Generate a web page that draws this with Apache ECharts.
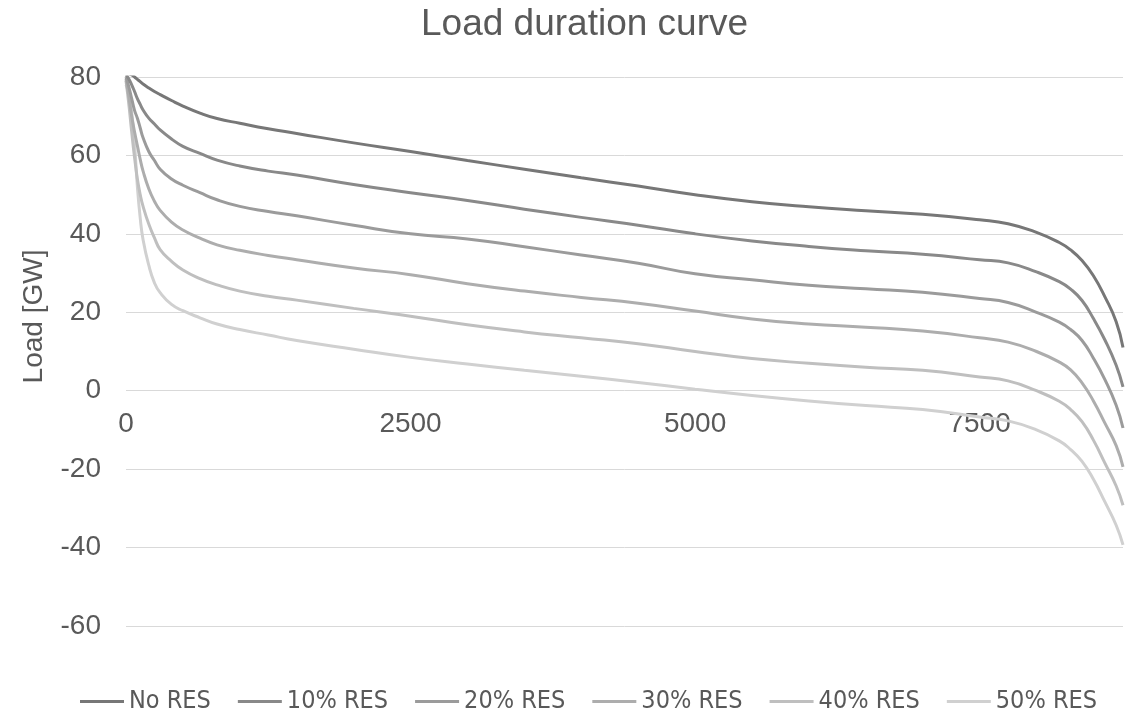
<!DOCTYPE html>
<html>
<head>
<meta charset="utf-8">
<title>Load duration curve</title>
<script src="https://cdn.jsdelivr.net/npm/echarts@6/dist/echarts.min.js"></script>
<style>
  html, body { margin: 0; padding: 0; background: #ffffff; }
  #chart { width: 1137px; height: 715px; }
</style>
</head>
<body>
<div id="chart"></div>
<script>
// Hours of the year, sorted by load (duration axis)
const hours = [0, 25, 50, 75, 100, 125, 150, 200, 250, 300, 400, 500, 650, 800, 1000, 1250, 1500,
  2000, 2500, 3000, 3500, 4000, 4500, 5000, 5500, 6000, 6500, 7000, 7500, 7750, 8000,
  8200, 8300, 8400, 8500, 8600, 8700, 8760];

// Residual load [GW] for each renewable share
const noRes = [81, 80.8, 80.5, 80.0, 79.4, 78.8, 78.2, 77.2, 76.3, 75.5, 74.0, 72.6, 70.8, 69.4, 68.2, 66.8, 65.6,
  63.2, 61.0, 58.7, 56.5, 54.3, 52.2, 50.0, 48.2, 46.9, 45.9, 45.0, 43.6, 42.6, 40.4,
  37.8, 35.9, 33.2, 29.3, 24.0, 17.6, 11.0];
const res10 = [80.5, 79.5, 78.0, 76.3, 74.5, 73.0, 71.6, 69.5, 68.0, 66.5, 64.2, 62.3, 60.5, 58.8, 57.3, 56.0, 55.0,
  52.6, 50.5, 48.5, 46.3, 44.2, 42.2, 40.0, 38.2, 36.8, 35.7, 34.8, 33.4, 32.6, 30.3,
  27.8, 25.9, 23.0, 18.4, 13.0, 6.5, 1.0];
const res20 = [80.0, 77.5, 74.5, 71.5, 69.5, 67.0, 64.5, 61.0, 58.7, 56.5, 54.0, 52.4, 50.5, 48.7, 47.0, 45.7, 44.6,
  42.2, 40.0, 38.7, 36.7, 34.6, 32.5, 29.8, 28.3, 26.9, 26.0, 25.1, 23.5, 22.5, 20.0,
  17.5, 15.6, 12.8, 8.3, 2.9, -3.7, -9.5];
const res30 = [79.5, 75.0, 70.0, 66.0, 62.5, 59.0, 56.0, 51.5, 48.3, 46.0, 43.0, 41.0, 38.9, 37.2, 35.8, 34.5, 33.4,
  31.3, 29.6, 27.3, 25.4, 23.8, 22.3, 20.3, 18.3, 17.0, 16.2, 15.2, 13.5, 12.4, 10.0,
  7.3, 5.3, 2.0, -2.6, -8.2, -14.0, -19.4];
const res40 = [79.0, 73.0, 66.0, 59.5, 54.0, 50.0, 47.0, 42.5, 39.0, 36.0, 33.0, 30.8, 28.6, 27.0, 25.4, 24.1, 23.1,
  21.0, 19.0, 16.8, 15.0, 13.5, 12.0, 10.0, 8.2, 7.0, 6.0, 5.2, 3.5, 2.5, 0.0,
  -2.7, -4.8, -7.9, -12.6, -18.4, -24.3, -29.2];
const res50 = [78.0, 75.5, 71.0, 63.0, 52.0, 44.0, 38.5, 32.0, 27.5, 25.0, 22.0, 20.4, 18.6, 17.0, 15.6, 14.2, 12.8,
  10.6, 8.5, 6.8, 5.2, 3.7, 2.1, 0.4, -1.2, -2.6, -3.8, -4.8, -6.7, -7.7, -10.0,
  -12.8, -15.0, -18.0, -22.6, -28.3, -34.3, -39.3];

const seriesNames = ['No RES', '10% RES', '20% RES', '30% RES', '40% RES', '50% RES'];
const seriesValues = [noRes, res10, res20, res30, res40, res50];
const seriesColors = ['#777777', '#898989', '#9b9b9b', '#adadad', '#bfbfbf', '#d0d0d0'];

const xTicks = { min: 0, max: 8760, interval: 2500 };
const yTicks = { min: -60, max: 80, interval: 20 };

const textColor = '#595959';
const fontFamily = '"Liberation Sans", Arial, sans-serif';
const narrowFamily = '"Liberation Sans Narrow", "Arial Narrow", "DejaVu Sans Condensed", sans-serif';

const chart = echarts.init(document.getElementById('chart'), null, { renderer: 'canvas' });

chart.setOption({
  backgroundColor: '#ffffff',
  animation: false,
  title: {
    text: 'Load duration curve',
    left: 416,
    top: 1,
    textStyle: { color: textColor, fontSize: 37, fontWeight: 'normal', fontFamily: fontFamily }
  },
  legend: {
    top: 684,
    left: 75,
    icon: 'rect',
    itemWidth: 44,
    itemHeight: 3,
    itemGap: 27,
    textStyle: { color: textColor, fontSize: 25, fontFamily: narrowFamily },
    data: seriesNames
  },
  grid: { left: 126, right: 14, top: 77, bottom: 89, containLabel: false },
  xAxis: {
    type: 'value',
    min: xTicks.min,
    max: xTicks.max,
    interval: xTicks.interval,
    axisLine: { show: false, onZero: false },
    axisTick: { show: false },
    splitLine: { show: false },
    axisLabel: {
      color: textColor, fontSize: 28, fontFamily: fontFamily, margin: 20,
      showMaxLabel: false,
      formatter: (v) => String(v)
    }
  },
  yAxis: {
    type: 'value',
    min: yTicks.min,
    max: yTicks.max,
    interval: yTicks.interval,
    name: 'Load [GW]',
    nameLocation: 'middle',
    nameGap: 78,
    nameTextStyle: { color: textColor, fontSize: 28, fontFamily: fontFamily, padding: [0, 0, 0, 70] },
    axisLine: { show: false },
    axisTick: { show: false },
    splitLine: { lineStyle: { color: '#d9d9d9', width: 1 } },
    axisLabel: { color: textColor, fontSize: 28, fontFamily: fontFamily, margin: 25 }
  },
  series: seriesNames.map((name, i) => ({
    name: name,
    type: 'line',
    data: hours.map((h, j) => [h, seriesValues[i][j]]),
    smooth: 0.5,
    showSymbol: false,
    lineStyle: { color: seriesColors[i], width: 3 },
    itemStyle: { color: seriesColors[i] },
    z: 10 - i
  }))
});

// Hour labels sit just under the zero-load line, as the axis crosses at 0 GW
const yZero = chart.convertToPixel({ yAxisIndex: 0 }, 0);
const yBottom = chart.convertToPixel({ yAxisIndex: 0 }, yTicks.min);
chart.setOption({ xAxis: { offset: yZero - yBottom } });
</script>
</body>
</html>
